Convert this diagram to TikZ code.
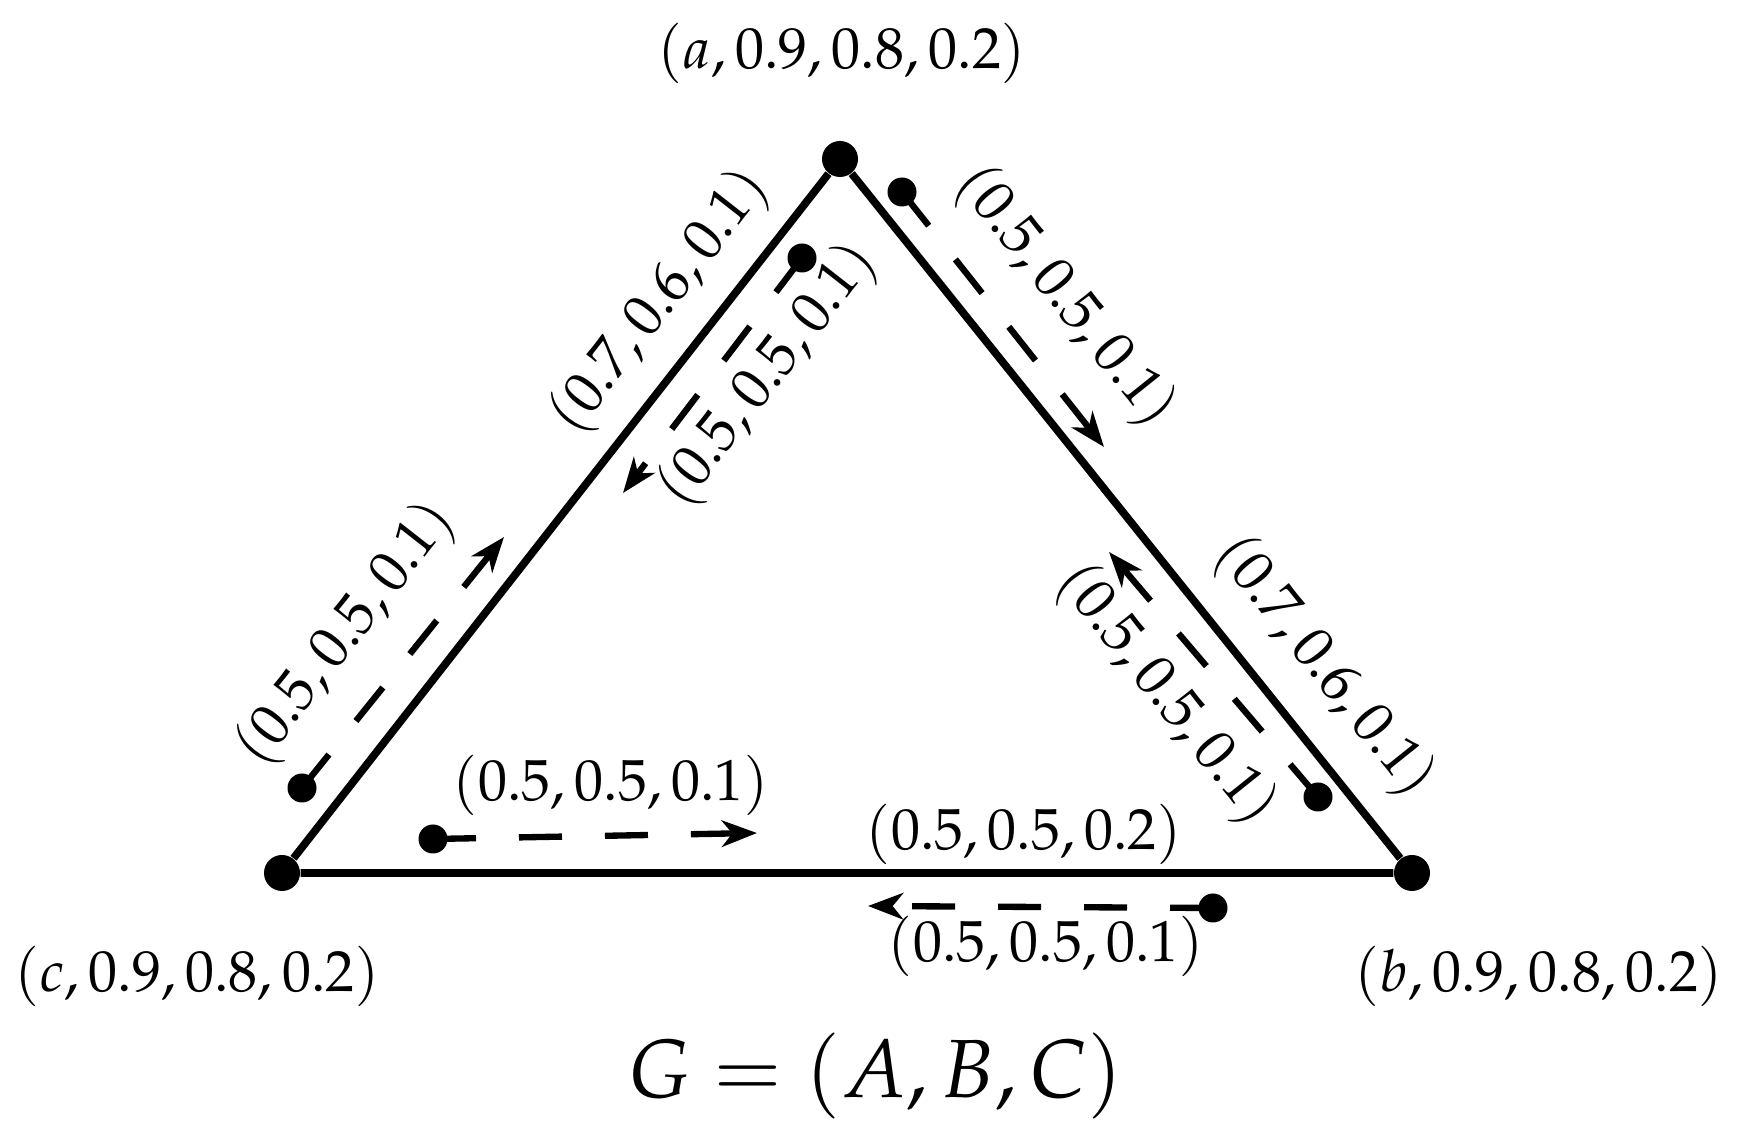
\documentclass[tikz,border=0pt]{standalone}
\usepackage{amsmath}
\usepackage{mathpazo}
\usepackage{tikz}
\usetikzlibrary{arrows.meta}

\begin{document}
\begin{tikzpicture}[x=1cm,y=1cm,
    vertex/.style={circle,fill=black,inner sep=0pt,minimum size=3.6mm},
    sdot/.style={circle,fill=black,inner sep=0pt,minimum size=2.9mm},
    edge/.style={black,line width=2.2pt},
    flow/.style={black,line width=1.8pt,dash pattern=on 4.3mm off 4.3mm,-{Stealth[length=10pt,width=7.5pt,inset=3pt]}},
    lbl/.style={font=\fontsize{16.5}{20}\selectfont}]
    \useasboundingbox (0,0) rectangle (17.4,11.37);
    % vertices and edges
    \node[vertex] (a) at (8.40,9.78) {};
    \node[vertex] (b) at (14.12,2.64) {};
    \node[vertex] (c) at (2.82,2.64) {};
    \draw[edge] (c) -- (a) -- (b) -- (c);
    \node[lbl] (la) at (8.42,10.84) {$(a,0.9,0.8,0.2)$};
    \node[lbl] (lb) at (15.39,1.61) {$(b,0.9,0.8,0.2)$};
    \node[lbl] (lc) at (1.97,1.61) {$(c,0.9,0.8,0.2)$};
    % edge weights
    \node[lbl, rotate=52] (wca) at (6.60,8.35) {$(0.7,0.6,0.1)$};
    \node[lbl, rotate=-51.3] (wab) at (13.24,4.70) {$(0.7,0.6,0.1)$};
    \node[lbl] (wbc) at (10.24,3.03) {$(0.5,0.5,0.2)$};
    % flows
    \node[sdot] (s1) at (3.02,3.49) {};
    \coordinate (t1) at (5.04,6.00);
    \draw[flow] (s1.center) -- (t1);
    \node[lbl, rotate=52] (f1) at (3.46,5.03) {$(0.5,0.5,0.1)$};
    \node[sdot] (s2) at (8.02,8.79) {};
    \coordinate (t2) at (6.23,6.44);
    \draw[flow] (s2.center) -- (t2);
    \node[lbl, rotate=52] (f2) at (7.68,7.62) {$(0.5,0.5,0.1)$};
    \node[sdot] (s3) at (9.02,9.45) {};
    \coordinate (t3) at (11.04,6.90);
    \draw[flow] (s3.center) -- (t3);
    \node[lbl, rotate=-51.3] (f3) at (10.65,8.40) {$(0.5,0.5,0.1)$};
    \node[sdot] (s4) at (13.18,3.40) {};
    \coordinate (t4) at (11.09,5.85);
    \draw[flow] (s4.center) -- (t4);
    \node[lbl, rotate=-51.3] (f4) at (11.66,4.42) {$(0.5,0.5,0.1)$};
    \node[sdot] (s5) at (4.33,2.98) {};
    \coordinate (t5) at (7.57,3.04);
    \draw[flow] (s5.center) -- (t5);
    \node[lbl] (f5) at (6.11,3.52) {$(0.5,0.5,0.1)$};
    \node[sdot] (s6) at (12.13,2.29) {};
    \coordinate (t6) at (8.68,2.31);
    \draw[flow] (s6.center) -- (t6);
    \node[lbl] (f6) at (10.46,1.91) {$(0.5,0.5,0.1)$};
    % caption
    \node[font=\fontsize{23.5}{28}\selectfont] (G) at (8.75,0.61) {$G=(A,B,C)$};
\end{tikzpicture}
\end{document}
